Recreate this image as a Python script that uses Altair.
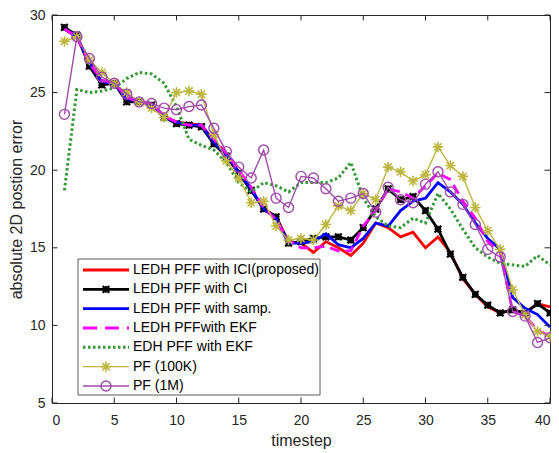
import altair as alt
import pandas as pd

# ---------------- data ----------------
timestep = list(range(1, 41))

series_names = [
    "LEDH PFF with ICI(proposed)",
    "LEDH PFF with CI",
    "LEDH PFF with samp.",
    "LEDH PFFwith EKF",
    "EDH PFF with EKF",
    "PF (100K)",
    "PF (1M)",
]

ledh_ici = [29.1, 28.6, 26.9, 25.7, 25.6, 24.6, 24.4, 24.2, 23.5, 23.1,
            23.0, 22.9, 21.9, 21.0, 19.9, 18.8, 17.5, 17.0, 15.4, 15.3,
            14.7, 15.4, 15.0, 14.5, 15.3, 16.6, 16.3, 15.7, 16.0, 15.0,
            15.7, 14.7, 13.0, 12.0, 11.2, 10.8, 11.0, 10.8, 11.4, 11.2]

ledh_ci = [29.2, 28.7, 26.7, 25.5, 25.6, 24.4, 24.4, 24.2, 23.4, 23.0,
           22.9, 22.8, 21.7, 20.9, 19.8, 18.7, 17.5, 17.0, 15.3, 15.4,
           15.6, 15.7, 15.7, 15.5, 16.3, 17.5, 18.8, 18.1, 18.3, 17.4,
           16.2, 14.6, 13.1, 12.0, 11.3, 10.8, 11.0, 10.8, 11.4, 10.8]

ledh_samp = [29.1, 28.6, 26.9, 25.7, 25.6, 24.6, 24.4, 24.2, 23.4, 23.1,
             22.9, 22.9, 21.8, 21.0, 19.9, 18.8, 17.5, 16.9, 15.3, 15.3,
             15.4, 15.9, 15.2, 15.0, 15.6, 16.6, 16.4, 17.4, 18.0, 18.2,
             19.2, 18.6, 17.8, 16.6, 15.6, 14.9, 11.8, 11.1, 10.7, 9.9]

ledh_ekf = [29.1, 28.6, 26.9, 25.8, 25.6, 24.7, 24.4, 24.3, 23.5, 23.1,
            22.9, 22.9, 22.0, 21.1, 20.0, 18.9, 17.6, 16.8, 15.5, 15.0,
            15.0, 15.1, 14.8, 14.8, 16.4, 17.4, 18.8, 18.6, 18.2, 19.0,
            19.8, 19.4, 18.0, 16.9, 15.4, 14.7, 10.9, 10.6, 9.7, 9.3]

edh_ekf = [18.7, 25.2, 25.0, 25.1, 25.3, 25.9, 26.3, 26.2, 25.6, 24.1,
           22.0, 21.6, 21.3, 20.5, 19.2, 18.6, 19.2, 19.0, 18.6, 19.2,
           19.2, 19.2, 19.5, 20.5, 18.2, 17.0, 16.4, 16.3, 16.9, 16.6,
           18.5, 17.5, 16.2, 15.0, 14.4, 14.0, 13.9, 13.8, 14.5, 13.9]

pf_100k = [28.3, 28.6, 27.1, 26.3, 25.6, 25.0, 24.4, 24.0, 23.4, 25.0,
           25.1, 24.9, 22.3, 20.6, 19.5, 17.9, 18.0, 16.4, 15.5, 15.6,
           15.5, 16.5, 17.7, 17.4, 18.5, 18.1, 20.2, 19.9, 19.3, 19.7,
           21.5, 20.3, 19.6, 17.6, 16.1, 14.9, 12.3, 10.7, 9.6, 9.3]

pf_1m = [23.6, 28.6, 27.2, 26.0, 25.6, 24.9, 24.4, 24.3, 24.0, 23.9,
         24.1, 24.2, 22.7, 21.2, 20.2, 19.5, 21.3, 18.2, 17.6, 19.6,
         19.5, 18.8, 18.0, 18.2, 18.5, 17.3, 18.9, 18.1, 17.9, 19.1,
         19.9, 18.6, 17.8, 16.5, 14.9, 14.4, 10.9, 10.6, 8.9, 9.2]

series_values = [ledh_ici, ledh_ci, ledh_samp, ledh_ekf, edh_ekf, pf_100k, pf_1m]

x_ticks = [0, 5, 10, 15, 20, 25, 30, 35, 40]
y_ticks = [5, 10, 15, 20, 25, 30]

# ---------------- tables ----------------
rows = []
for name, vals in zip(series_names, series_values):
    for ti, v in zip(timestep, vals):
        rows.append({"series": name, "t": ti, "value": v})
df = pd.DataFrame(rows)

W, H = 498, 388
X0, X1 = 0, 40
Y0, Y1 = 5, 30
TICK_PX = 5.5
dx = TICK_PX * (X1 - X0) / W
dy = TICK_PX * (Y1 - Y0) / H

tick_rows = []
for xt in x_ticks:
    tick_rows.append({"t": xt, "t2": xt, "value": Y0, "value2": Y0 + dy})
    tick_rows.append({"t": xt, "t2": xt, "value": Y1, "value2": Y1 - dy})
for yt in y_ticks:
    tick_rows.append({"t": X0, "t2": X0 + dx, "value": yt, "value2": yt})
    tick_rows.append({"t": X1, "t2": X1 - dx, "value": yt, "value2": yt})
ticks_df = pd.DataFrame(tick_rows)

FONT = "Liberation Sans"
AX = "#262626"

xs = alt.Scale(domain=[X0, X1], nice=False, zero=False)
ys = alt.Scale(domain=[Y0, Y1], nice=False, zero=False)
xa = alt.Axis(values=x_ticks, title="timestep", labelPadding=10,
              titlePadding=18, titleBaseline="alphabetic")
ya = alt.Axis(values=y_ticks, title="absolute 2D postion error", labelPadding=7, titlePadding=5)

ASTER = "M-1,0L1,0M0,-1L0,1M-0.7,-0.7L0.7,0.7M-0.7,0.7L0.7,-0.7"
XMARK = "M-1,-1L1,1M-1,1L1,-1M-1,0L1,0M0,-1L0,1"

styles = [
    dict(color="#FF0000", width=2.8),
    dict(color="#000000", width=2.8, shape=XMARK, size=45, mw=2.2),
    dict(color="#0000FF", width=2.8),
    dict(color="#FF00FF", width=2.8, dash=[10, 6]),
    dict(color="#339933", width=3.0, dash=[2.5, 2.5]),
    dict(color="#BDB63F", width=1.4, shape=ASTER, size=110, mw=1.6),
    dict(color="#A04BAA", width=1.4, shape="circle", size=100, mw=1.4),
]

enc = dict(x=alt.X("t:Q", scale=xs, axis=xa), y=alt.Y("value:Q", scale=ys, axis=ya))

base = alt.Chart(df)
layers = []
for name, st in zip(series_names, styles):
    f = base.transform_filter(alt.datum.series == name)
    lk = dict(color=st["color"], strokeWidth=st["width"])
    if "dash" in st:
        lk["strokeDash"] = st["dash"]
    layers.append(f.mark_line(**lk).encode(**enc))
    if "shape" in st:
        layers.append(
            f.mark_point(shape=st["shape"], size=st["size"], filled=False,
                         strokeWidth=st["mw"], color=st["color"], opacity=1).encode(**enc)
        )

ticks_layer = alt.Chart(ticks_df).mark_rule(color=AX, strokeWidth=1).encode(
    x=alt.X("t:Q", scale=xs, axis=xa), x2="t2:Q",
    y=alt.Y("value:Q", scale=ys, axis=ya), y2="value2:Q",
)
layers.append(ticks_layer)
main = alt.layer(*layers)

# ---------------- legend ----------------
leg_df = pd.DataFrame({"label": series_names, "row": list(range(len(series_names)))})
leg_y = alt.Y("row:Q", scale=alt.Scale(domain=[0, 6], range=[255, 371]), axis=None)
box = alt.Chart(pd.DataFrame({"k": [0]})).mark_rect(
    fill="white", stroke="#333333", strokeWidth=0.8
).encode(x=alt.value(26), x2=alt.value(268), y=alt.value(244), y2=alt.value(380))

leg_layers = [box]
for i, st in enumerate(styles):
    lb = alt.Chart(leg_df).transform_filter(alt.datum.row == i)
    rk = dict(color=st["color"], strokeWidth=st["width"])
    if "dash" in st:
        rk["strokeDash"] = st["dash"] if i != 3 else [14, 8]
    leg_layers.append(lb.mark_rule(**rk).encode(x=alt.value(31), x2=alt.value(77), y=leg_y))
    if "shape" in st:
        leg_layers.append(lb.mark_point(shape=st["shape"], size=st["size"], filled=False,
                                        strokeWidth=st["mw"], color=st["color"], opacity=1)
                          .encode(x=alt.value(54), y=leg_y))
leg_layers.append(
    alt.Chart(leg_df).mark_text(align="left", baseline="middle", font=FONT, fontSize=14, color="#000000")
    .encode(x=alt.value(81), y=leg_y, text="label:N")
)
legend = alt.layer(*leg_layers)

chart = (
    alt.layer(main, legend)
    .resolve_scale(y="independent")
    .properties(width=W, height=H, autosize=alt.AutoSizeParams(type="none"),
                padding={"left": 44, "top": 7, "right": 1, "bottom": 46})
    .configure_view(stroke=AX, strokeWidth=1)
    .configure_axis(labelFont=FONT, labelFontSize=14, labelColor=AX,
                    titleFont=FONT, titleFontSize=16, titleFontWeight="normal", titleColor=AX,
                    domain=False, ticks=False, grid=False)
)

chart.save("out.html", embed_options={"renderer": "svg", "actions": False})
